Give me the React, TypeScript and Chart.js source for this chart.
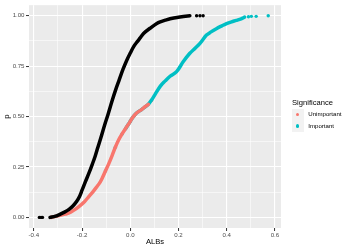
import React, { useEffect, useRef } from "react";
import { Chart, registerables } from "chart.js";

Chart.register(...registerables);

// ---- data (x = ALBs, y = p) ----
const blackCurve: [number, number][] = [
  [-0.333, 0.0], [-0.31, 0.006], [-0.296, 0.013], [-0.275, 0.025], [-0.254, 0.04],
  [-0.237, 0.058], [-0.222, 0.08], [-0.21, 0.105], [-0.2, 0.135], [-0.186, 0.177],
  [-0.172, 0.218], [-0.158, 0.262], [-0.146, 0.302], [-0.135, 0.345], [-0.122, 0.395],
  [-0.106, 0.46], [-0.092, 0.512], [-0.075, 0.58], [-0.06, 0.635], [-0.048, 0.675],
  [-0.03, 0.735], [-0.014, 0.781], [0.0, 0.815], [0.014, 0.847], [0.03, 0.873],
  [0.041, 0.89], [0.055, 0.912], [0.082, 0.938], [0.11, 0.962], [0.124, 0.97],
  [0.145, 0.978], [0.165, 0.985], [0.2, 0.993], [0.22, 0.996], [0.247, 1.0],
];
const blackDots: [number, number][] = [
  [-0.377, 0.0], [-0.37, 0.0], [-0.364, 0.0], [0.275, 1.0], [0.289, 1.0], [0.302, 1.0],
];

const unimportantCurve: [number, number][] = [
  [-0.33, 0.0], [-0.31, 0.005], [-0.29, 0.01], [-0.27, 0.016], [-0.254, 0.022],
  [-0.235, 0.035], [-0.213, 0.054], [-0.19, 0.078], [-0.172, 0.103], [-0.155, 0.127],
  [-0.14, 0.15], [-0.125, 0.175], [-0.117, 0.193], [-0.103, 0.23], [-0.089, 0.267],
  [-0.075, 0.308], [-0.062, 0.348], [-0.048, 0.385], [-0.034, 0.414], [-0.02, 0.44],
  [-0.007, 0.463], [0.007, 0.49], [0.021, 0.512], [0.048, 0.536], [0.075, 0.561],
];
const unimportantDots: [number, number][] = [
  [0.0, 0.476], [0.014, 0.5], [0.034, 0.524], [0.06, 0.548], [0.088, 0.58],
];

const importantCurve: [number, number][] = [
  [-0.02, 0.44], [-0.007, 0.463], [0.007, 0.49], [0.021, 0.512], [0.048, 0.536],
  [0.075, 0.561], [0.09, 0.585], [0.103, 0.61], [0.124, 0.65], [0.145, 0.677],
  [0.165, 0.7], [0.193, 0.724], [0.22, 0.773], [0.247, 0.814], [0.27, 0.84],
  [0.289, 0.863], [0.316, 0.904], [0.335, 0.92], [0.357, 0.936], [0.38, 0.95],
  [0.399, 0.961], [0.42, 0.97], [0.44, 0.977], [0.46, 0.985], [0.474, 0.993],
];
const importantDots: [number, number][] = [
  [-0.103, 0.23], [-0.062, 0.348], [-0.034, 0.414],
  [0.49, 0.995], [0.502, 0.997], [0.522, 0.997], [0.572, 1.0],
];

const xMajorTicks = [-0.4, -0.2, 0.0, 0.2, 0.4, 0.6];
const xMinorTicks = [-0.3, -0.1, 0.1, 0.3, 0.5];
const yMajorTicks = [0.0, 0.25, 0.5, 0.75, 1.0];
const yMinorTicks = [0.125, 0.375, 0.625, 0.875];

const legendTitle = "Significance";
const legendLabels = ["Unimportant", "Important"];
const legendColors = ["#F8766D", "#00BFC4"];
const xTitle = "ALBs";
const yTitle = "p";

const FONT = "'Liberation Sans', Arial, Helvetica, sans-serif";

const isIn = (list: number[], v: number) => list.some((m) => Math.abs(m - v) < 1e-9);
const toPts = (arr: [number, number][]) => arr.map(([x, y]) => ({ x, y }));

const panelBg = {
  id: "panelBg",
  beforeDraw(chart: any) {
    const { ctx, chartArea } = chart;
    if (!chartArea) return;
    ctx.save();
    ctx.fillStyle = "#EBEBEB";
    ctx.fillRect(chartArea.left, chartArea.top, chartArea.width, chartArea.height);
    ctx.restore();
  },
};

export default function App() {
  const ref = useRef<HTMLCanvasElement | null>(null);

  useEffect(() => {
    if (!ref.current) return;
    const lineDs = (data: [number, number][], color: string) => ({
      data: toPts(data),
      showLine: true,
      borderColor: color,
      backgroundColor: color,
      borderWidth: 3.5,
      borderCapStyle: "round",
      borderJoinStyle: "round",
      pointRadius: 0,
      pointHoverRadius: 0,
      cubicInterpolationMode: "monotone",
      tension: 0.4,
    });
    const dotDs = (data: [number, number][], color: string) => ({
      data: toPts(data),
      showLine: false,
      backgroundColor: color,
      borderWidth: 0,
      pointRadius: 1.7,
      pointHoverRadius: 1.7,
    });

    const xTicksAll = [...xMajorTicks, ...xMinorTicks].sort((a, b) => a - b);
    const yTicksAll = [...yMajorTicks, ...yMinorTicks].sort((a, b) => a - b);

    const chart = new Chart(ref.current, {
      type: "scatter",
      data: {
        datasets: [
          lineDs(blackCurve, "#000000"),
          dotDs(blackDots, "#000000"),
          lineDs(unimportantCurve, legendColors[0]),
          lineDs(importantCurve, legendColors[1]),
          dotDs(unimportantDots, legendColors[0]),
          dotDs(importantDots, legendColors[1]),
        ] as any,
      },
      options: {
        animation: false,
        responsive: false,
        devicePixelRatio: 1,
        layout: { padding: { left: 0, right: 69, top: 3, bottom: 0 } },
        plugins: { legend: { display: false }, tooltip: { enabled: false } },
        events: [],
        scales: {
          x: {
            type: "linear",
            min: -0.42,
            max: 0.625,
            afterBuildTicks: (scale: any) => {
              scale.ticks = xTicksAll.map((v) => ({ value: v }));
            },
            afterFit: (scale: any) => {
              scale.height = 22;
            },
            border: { display: false },
            grid: {
              color: "#FFFFFF",
              lineWidth: (c: any) => (c.tick && isIn(xMajorTicks, c.tick.value) ? 1.1 : 0.55),
              tickColor: (c: any) =>
                c.tick && isIn(xMajorTicks, c.tick.value) ? "#333333" : "rgba(0,0,0,0)",
              tickWidth: 1,
              tickLength: 3,
              drawTicks: true,
            },
            ticks: {
              autoSkip: false,
              maxRotation: 0,
              padding: 0.5,
              color: "#4D4D4D",
              font: { family: FONT, size: 6.1 },
              callback: (v: any) => (isIn(xMajorTicks, Number(v)) ? Number(v).toFixed(1) : ""),
            },
            title: {
              display: true,
              text: xTitle,
              color: "#000000",
              font: { family: FONT, size: 7.6 },
              padding: { top: 0, bottom: 3.5 },
            },
          },
          y: {
            type: "linear",
            min: -0.0525,
            max: 1.0525,
            afterBuildTicks: (scale: any) => {
              scale.ticks = yTicksAll.map((v) => ({ value: v }));
            },
            afterFit: (scale: any) => {
              scale.width = 29;
            },
            border: { display: false },
            grid: {
              color: "#FFFFFF",
              lineWidth: (c: any) => (c.tick && isIn(yMajorTicks, c.tick.value) ? 1.1 : 0.55),
              tickColor: (c: any) =>
                c.tick && isIn(yMajorTicks, c.tick.value) ? "#333333" : "rgba(0,0,0,0)",
              tickWidth: 1,
              tickLength: 3,
              drawTicks: true,
            },
            ticks: {
              autoSkip: false,
              padding: 1.5,
              color: "#4D4D4D",
              font: { family: FONT, size: 6.1 },
              callback: (v: any) => (isIn(yMajorTicks, Number(v)) ? Number(v).toFixed(2) : ""),
            },
            title: {
              display: true,
              text: yTitle,
              color: "#000000",
              font: { family: FONT, size: 7.6 },
              padding: { top: 2, bottom: 0 },
            },
          },
        },
      } as any,
      plugins: [panelBg],
    });
    return () => chart.destroy();
  }, []);

  return (
    <div style={{ position: "fixed", left: 0, top: 0, width: 350, height: 250, background: "#FFFFFF" }}>
      <canvas ref={ref} width={350} height={250} style={{ position: "absolute", left: 0, top: 0 }} />
      <div
        style={{
          position: "absolute",
          left: 292,
          top: 98.8,
          fontFamily: FONT,
          fontSize: 7.6,
          lineHeight: "7.6px",
          color: "#000000",
          whiteSpace: "nowrap",
        }}
      >
        {legendTitle}
      </div>
      {legendLabels.map((lab, i) => {
        const top = 108.5 + i * 11.6;
        return (
          <React.Fragment key={lab}>
            <div
              style={{
                position: "absolute",
                left: 292,
                top,
                width: 11.5,
                height: 11.5,
                background: "#F2F2F2",
              }}
            />
            <div
              style={{
                position: "absolute",
                left: 292 + 5.75 - 1.7,
                top: top + 5.75 - 1.7,
                width: 3.4,
                height: 3.4,
                borderRadius: "50%",
                background: legendColors[i],
              }}
            />
            <div
              style={{
                position: "absolute",
                left: 308.3,
                top: top + 5.75 - 3.05,
                fontFamily: FONT,
                fontSize: 6.1,
                lineHeight: "6.1px",
                color: "#000000",
                whiteSpace: "nowrap",
              }}
            >
              {lab}
            </div>
          </React.Fragment>
        );
      })}
    </div>
  );
}
